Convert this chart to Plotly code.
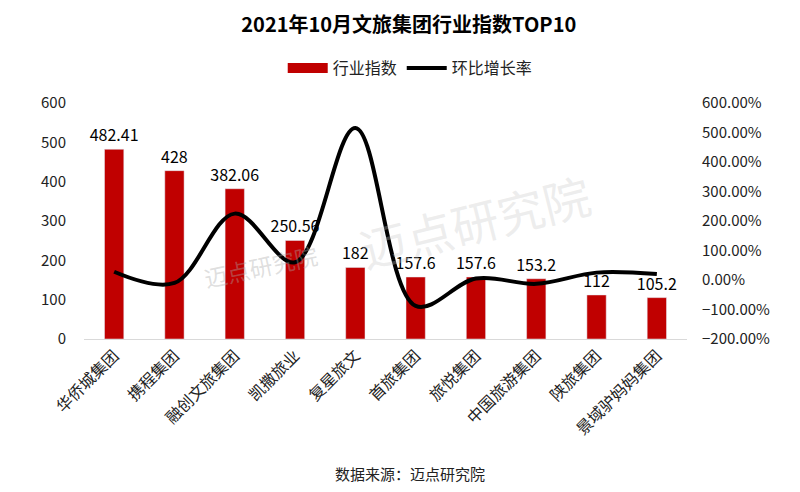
import plotly.graph_objects as go

categories = ["华侨城集团", "携程集团", "融创文旅集团", "凯撒旅业", "复星旅文",
              "首旅集团", "旅悦集团", "中国旅游集团", "陕旅集团", "景域驴妈妈集团"]
index_values = [482.41, 428, 382.06, 250.56, 182, 157.6, 157.6, 153.2, 112, 105.2]
growth_rate = [0.28, -0.10, 2.25, 0.60, 5.15, -0.88, 0.05, -0.13, 0.25, 0.20]
left_ticks = [0, 100, 200, 300, 400, 500, 600]
right_ticks = [-2, -1, 0, 1, 2, 3, 4, 5, 6]

FONT = "Noto Sans CJK SC"
RED = "#C00000"

fig = go.Figure()
# watermark
fig.add_annotation(text="迈点研究院", x=0.648, y=0.504, xref="paper", yref="paper",
                   showarrow=False, textangle=-14,
                   font=dict(size=47, color="rgba(200,200,200,0.32)", family=FONT))
fig.add_annotation(text="迈点研究院", x=0.19, y=0.18, xref="paper", yref="paper",
                   showarrow=False, textangle=-12,
                   font=dict(size=23, color="rgba(170,170,170,0.38)", family=FONT))

fig.add_trace(go.Bar(
    x=categories, y=index_values, name="行业指数", showlegend=False,
    marker_color=RED, width=0.32,
    text=[f"{v:g}" for v in index_values], textposition="outside",
    constraintext="none",
    textfont=dict(size=16, color="#000000", family=FONT),
    cliponaxis=False,
))
# legend proxy for the bar series (wide red rectangle like the reference)
fig.add_trace(go.Scatter(
    x=[None], y=[None], name="行业指数", mode="lines",
    line=dict(color=RED, width=10), showlegend=True,
))
fig.add_trace(go.Scatter(
    x=categories, y=growth_rate, name="环比增长率", yaxis="y2",
    mode="lines", line=dict(color="#000000", width=4, shape="spline", smoothing=1.0),
))

fig.add_annotation(text="数据来源：迈点研究院", x=0.541, xref="paper", y=-0.568, yref="paper",
                   showarrow=False, xanchor="center", yanchor="middle",
                   font=dict(size=15, color="#222222", family=FONT))

fig.update_layout(
    width=800, height=492,
    margin=dict(l=76, r=121, t=95, b=161),
    paper_bgcolor="white", plot_bgcolor="white",
    font=dict(family=FONT, color="#222222"),
    title=dict(text="<b>2021年10月文旅集团行业指数TOP10</b>", x=0.501, xanchor="center",
               y=0.965, yanchor="middle", font=dict(size=20, color="#000000", family=FONT)),
    legend=dict(orientation="h", x=0.541, xanchor="center", y=1.148, yanchor="middle",
                font=dict(size=16, color="#222222", family=FONT), itemwidth=40),
    showlegend=True,
    xaxis=dict(tickangle=-45, tickfont=dict(size=16, color="#222222"),
               showline=True, linecolor="#D9D9D9", linewidth=1, ticks="",
               showgrid=False),
    yaxis=dict(range=[0, 600], tickvals=left_ticks, showgrid=False, zeroline=False,
               tickfont=dict(size=15, color="#222222"), ticklabelstandoff=17),
    yaxis2=dict(range=[-2, 6], tickvals=right_ticks, tickformat=".2%", overlaying="y",
                side="right", showgrid=False, zeroline=False,
                tickfont=dict(size=15, color="#222222"), ticklabelstandoff=14),
)

fig.write_html("out.html")
